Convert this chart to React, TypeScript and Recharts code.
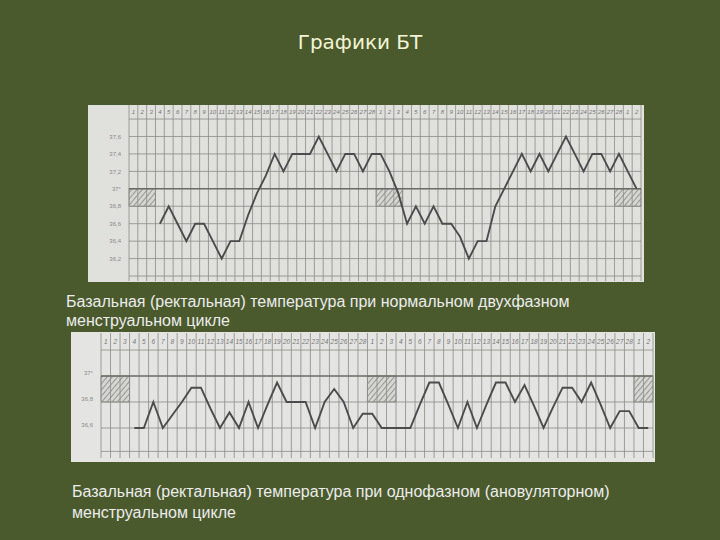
import React from 'react';
import { LineChart, Line, XAxis, YAxis, ReferenceLine, ReferenceArea } from 'recharts';

// day numbers printed in the header row: two full cycles and two extra days
const cycleDays = [1, 2, 3, 4, 5, 6, 7, 8, 9, 10, 11, 12, 13, 14, 15, 16, 17, 18, 19, 20, 21, 22, 23, 24, 25, 26, 27, 28];
const dayLabels = [...cycleDays, ...cycleDays, 1, 2];

// biphasic (normal) cycle, °C
const biphasicTemps = [
  null, null, null, 36.6, 36.8, 36.6, 36.4, 36.6, 36.6, 36.4, 36.2, 36.4, 36.4, 36.7,
  36.95, 37.15, 37.4, 37.2, 37.4, 37.4, 37.4, 37.6, 37.4, 37.2, 37.4, 37.4, 37.2, 37.4,
  37.4, 37.2, 36.95, 36.6, 36.8, 36.6, 36.8, 36.6, 36.6, 36.45, 36.2, 36.4, 36.4, 36.8,
  37.0, 37.2, 37.4, 37.2, 37.4, 37.2, 37.4, 37.6, 37.4, 37.2, 37.4, 37.4, 37.2, 37.4,
  37.2, 37.0,
];

// monophasic (anovulatory) cycle, °C
const monophasicTemps = [
  null, null, null, 36.6, 36.6, 36.8, 36.6, 36.7, 36.8, 36.91, 36.91, 36.75, 36.6, 36.72,
  36.6, 36.8, 36.6, 36.78, 36.95, 36.8, 36.8, 36.8, 36.6, 36.8, 36.9, 36.8, 36.6, 36.71,
  36.71, 36.6, 36.6, 36.6, 36.6, 36.78, 36.95, 36.95, 36.78, 36.6, 36.8, 36.6, 36.78, 36.95,
  36.95, 36.8, 36.93, 36.77, 36.6, 36.76, 36.91, 36.91, 36.8, 36.95, 36.78, 36.6, 36.73, 36.73,
  36.6, 36.6,
];

// grid levels and labels
const topLevels = [36.0, 36.2, 36.4, 36.6, 36.8, 37.0, 37.2, 37.4, 37.6, 37.8];
const topTicks = [36.2, 36.4, 36.6, 36.8, 37.0, 37.2, 37.4, 37.6];
const bottomLevels = [36.42, 36.6, 36.8, 37.0, 37.2];
const bottomTicks = [36.6, 36.8, 37.0];

// hatched "menstruation" boxes, as [first day, last day] column index
const topHatch = [[1, 3], [29, 31], [56, 58]];
const bottomHatch = [[1, 3], [29, 31], [57, 58]];

const topData = dayLabels.map((d, i) => ({ day: i + 1, t: biphasicTemps[i] }));
const bottomData = dayLabels.map((d, i) => ({ day: i + 1, t: monophasicTemps[i] }));
const colBounds = Array.from({ length: dayLabels.length + 1 }, (_, i) => i + 0.5);
const dayTicks = dayLabels.map((_, i) => i + 1);

const fmtTemp = (v: number) => (v === 37 ? '37°' : v.toFixed(1).replace('.', ','));

const GRID = '#8a8a86';
const LINE = '#4c4c4c';

function TempSheet(props: {
  data: any[];
  width: number;
  height: number;
  margin: any;
  yWidth: number;
  domain: [number, number];
  levels: number[];
  ticks: number[];
  hatch: number[][];
  id: string;
  headFont: number;
  headY: number;
  labelDy: number;
}) {
  const { data, width, height, margin, yWidth, domain, levels, ticks, hatch, id } = props;
  const headTick = (p: any) => (
    <text
      key={'d' + p.index}
      x={p.x}
      y={props.headY}
      textAnchor="middle"
      fontSize={props.headFont}
      fontStyle="italic"
      fontFamily="Liberation Sans"
      fill="#777"
    >
      {dayLabels[p.payload.value - 1]}
    </text>
  );
  return (
    <LineChart width={width} height={height} data={data} margin={margin}>
      <defs>
        <pattern id={id} patternUnits="userSpaceOnUse" width="4" height="4" patternTransform="rotate(40)">
          <rect width="4" height="4" fill="#d6d6d2" />
          <line x1="0" y1="0" x2="0" y2="4" stroke="#7a7a76" strokeWidth="1.4" />
        </pattern>
      </defs>
      <XAxis
        orientation="top"
        dataKey="day"
        type="number"
        domain={[0.5, dayLabels.length + 0.5]}
        ticks={dayTicks}
        interval={0}
        height={1}
        axisLine={false}
        tickLine={false}
        tick={headTick}
      />
      <YAxis
        type="number"
        domain={domain}
        allowDataOverflow
        ticks={ticks}
        interval={0}
        width={yWidth}
        axisLine={false}
        tickLine={false}
        tickFormatter={fmtTemp}
        tick={{ fontSize: 6, fill: '#8a8a8a', fontFamily: 'Liberation Sans', dy: props.labelDy }}
      />
      {hatch.map(([a, b]) => (
        <ReferenceArea
          key={'h' + a}
          x1={a - 0.5}
          x2={b + 0.5}
          y1={36.8}
          y2={37.0}
          fill={`url(#${id})`}
          fillOpacity={1}
          stroke="#8a8a86"
          strokeWidth={0.8}
        />
      ))}
      {colBounds.map((x) => (
        <ReferenceLine key={'v' + x} x={x} stroke={GRID} strokeWidth={0.8} />
      ))}
      {levels.map((y) => (
        <ReferenceLine
          key={'y' + y}
          y={y}
          stroke={y === 37 ? '#6a6a66' : GRID}
          strokeWidth={y === 37 ? 1.4 : 0.8}
        />
      ))}
      <Line
        dataKey="t"
        type="linear"
        stroke={LINE}
        strokeWidth={1.9}
        dot={false}
        connectNulls={false}
        isAnimationActive={false}
      />
    </LineChart>
  );
}

export default function App() {
  const caption: React.CSSProperties = {
    position: 'absolute',
    color: '#ececec',
    fontFamily: '"Liberation Sans", Arial, sans-serif',
    fontSize: 16,
    lineHeight: '19px',
    whiteSpace: 'nowrap',
  };
  return (
    <div
      style={{
        position: 'absolute',
        left: 0,
        top: 0,
        width: 720,
        height: 540,
        overflow: 'hidden',
        background: '#4a5a2c',
      }}
    >
      <div
        style={{
          position: 'absolute',
          left: 0,
          top: 30,
          width: 720,
          textAlign: 'center',
          color: '#f3f3d6',
          fontFamily: '"DejaVu Sans", Verdana, sans-serif',
          fontSize: 20,
        }}
      >
        Графики БТ
      </div>

      <div style={{ position: 'absolute', left: 88, top: 105, width: 556, height: 177, background: '#e0e0dc' }}>
        <div style={{ position: 'absolute', left: 0, top: -1 }}>
          <TempSheet
            id="hatchTop"
            data={topData}
            width={556}
            height={178}
            margin={{ top: 0, right: 3, bottom: 1, left: 0 }}
            yWidth={41}
            domain={[35.943, 37.961]}
            levels={topLevels}
            ticks={topTicks}
            hatch={topHatch}
            headFont={6}
            headY={10}
            labelDy={0}
          />
        </div>
      </div>

      <div style={{ ...caption, left: 66, top: 292 }}>
        Базальная (ректальная) температура при нормальном двухфазном
        <br />
        менструальном цикле
      </div>

      <div style={{ position: 'absolute', left: 71, top: 332, width: 584, height: 130, background: '#e4e4e2' }}>
        <TempSheet
          id="hatchBottom"
          data={bottomData}
          width={584}
          height={130}
          margin={{ top: 0, right: 2, bottom: 4, left: 0 }}
          yWidth={30}
          domain={[36.369, 37.331]}
          levels={bottomLevels}
          ticks={bottomTicks}
          hatch={bottomHatch}
          headFont={6.5}
          headY={12}
          labelDy={-3}
        />
      </div>

      <div style={{ ...caption, left: 72, top: 481, lineHeight: '21px' }}>
        Базальная (ректальная) температура при однофазном (ановуляторном)
        <br />
        менструальном цикле
      </div>
    </div>
  );
}
